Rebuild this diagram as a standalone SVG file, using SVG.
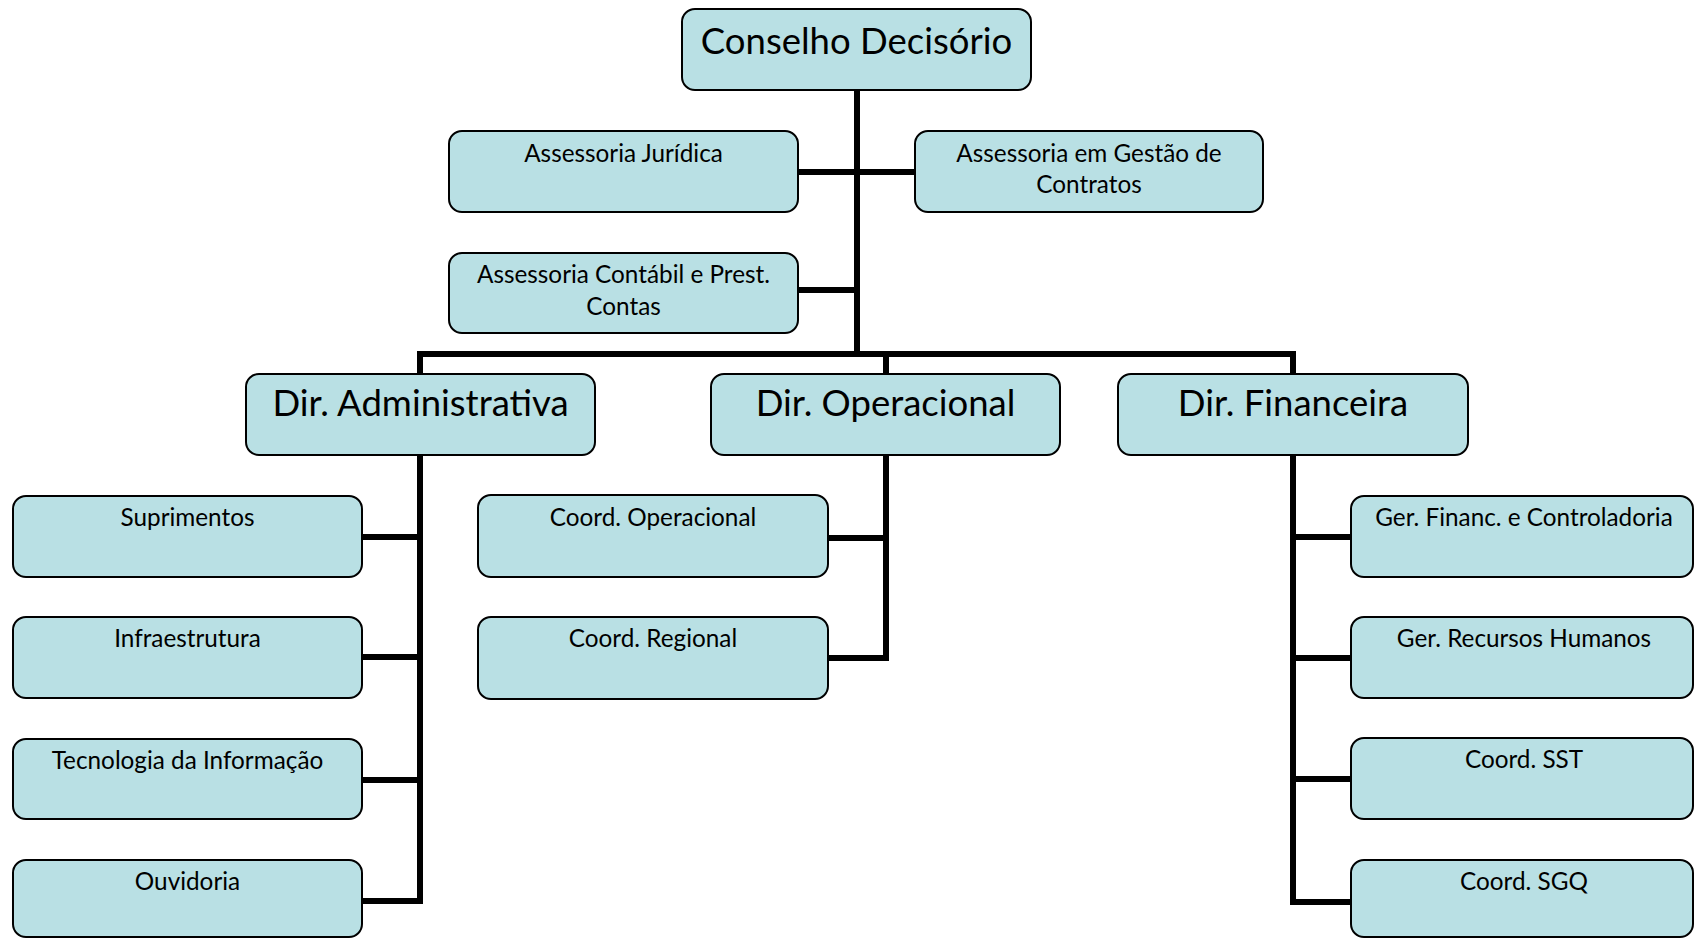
<svg xmlns="http://www.w3.org/2000/svg" width="1695" height="938" viewBox="0 0 1695 938">
<style>
.box{fill:#B9E0E4;stroke:#000;stroke-width:2}
.big{font-family:Lato,"Liberation Sans",sans-serif;font-size:36.5px;fill:#000;text-anchor:middle}
.sm{font-family:Lato,"Liberation Sans",sans-serif;font-size:24.3px;fill:#000;text-anchor:middle}
.con{fill:none;stroke:#000;stroke-width:6;stroke-linejoin:miter;stroke-linecap:butt}
</style>
<rect width="1695" height="938" fill="#fff"/>
<g id="connectors" class="con">
<path d="M857 90V354"/>
<path d="M798 172H915"/>
<path d="M798 290H857"/>
<path d="M420 374V354H1293V374"/>
<path d="M886 354V374"/>
<path d="M420 455V901H362"/>
<path d="M362 537H420M362 657H420M362 780H420"/>
<path d="M886 455V658H828"/>
<path d="M828 538H886"/>
<path d="M1293 455V902H1351"/>
<path d="M1293 537H1351M1293 658H1351M1293 779H1351"/>
</g>
<g id="n-conselho"><rect class="box" x="682" y="9" width="349" height="81" rx="13"/><text class="big" x="856.5" y="54">Conselho Decisório</text></g>
<g id="n-juridica"><rect class="box" x="449" y="131" width="349" height="81" rx="13"/><text class="sm" x="623.5" y="162">Assessoria Jurídica</text></g>
<g id="n-gestao"><rect class="box" x="915" y="131" width="348" height="81" rx="13"/><text class="sm" x="1089" y="162">Assessoria em Gestão de</text><text class="sm" x="1089" y="193">Contratos</text></g>
<g id="n-contabil"><rect class="box" x="449" y="253" width="349" height="80" rx="13"/><text class="sm" x="623.5" y="283">Assessoria Contábil e Prest.</text><text class="sm" x="623.5" y="315">Contas</text></g>
<g id="n-diradm"><rect class="box" x="246" y="374" width="349" height="81" rx="13"/><text class="big" x="420.5" y="416">Dir. Administrativa</text></g>
<g id="n-dirop"><rect class="box" x="711" y="374" width="349" height="81" rx="13"/><text class="big" x="885.5" y="416">Dir. Operacional</text></g>
<g id="n-dirfin"><rect class="box" x="1118" y="374" width="350" height="81" rx="13"/><text class="big" x="1293" y="416">Dir. Financeira</text></g>
<g id="n-suprimentos"><rect class="box" x="13" y="496" width="349" height="81" rx="13"/><text class="sm" x="187.5" y="526">Suprimentos</text></g>
<g id="n-infra"><rect class="box" x="13" y="617" width="349" height="81" rx="13"/><text class="sm" x="187.5" y="647">Infraestrutura</text></g>
<g id="n-ti"><rect class="box" x="13" y="739" width="349" height="80" rx="13"/><text class="sm" x="187.5" y="769">Tecnologia da Informação</text></g>
<g id="n-ouvidoria"><rect class="box" x="13" y="860" width="349" height="77" rx="13"/><text class="sm" x="187.5" y="890">Ouvidoria</text></g>
<g id="n-coordop"><rect class="box" x="478" y="495" width="350" height="82" rx="13"/><text class="sm" x="653" y="526">Coord. Operacional</text></g>
<g id="n-coordreg"><rect class="box" x="478" y="617" width="350" height="82" rx="13"/><text class="sm" x="653" y="647">Coord. Regional</text></g>
<g id="n-gerfin"><rect class="box" x="1351" y="496" width="342" height="81" rx="13"/><text class="sm" x="1524" y="526">Ger. Financ. e Controladoria</text></g>
<g id="n-rh"><rect class="box" x="1351" y="617" width="342" height="81" rx="13"/><text class="sm" x="1524" y="647">Ger. Recursos Humanos</text></g>
<g id="n-sst"><rect class="box" x="1351" y="738" width="342" height="81" rx="13"/><text class="sm" x="1524" y="768">Coord. SST</text></g>
<g id="n-sgq"><rect class="box" x="1351" y="860" width="342" height="77" rx="13"/><text class="sm" x="1524" y="890">Coord. SGQ</text></g>
</svg>
